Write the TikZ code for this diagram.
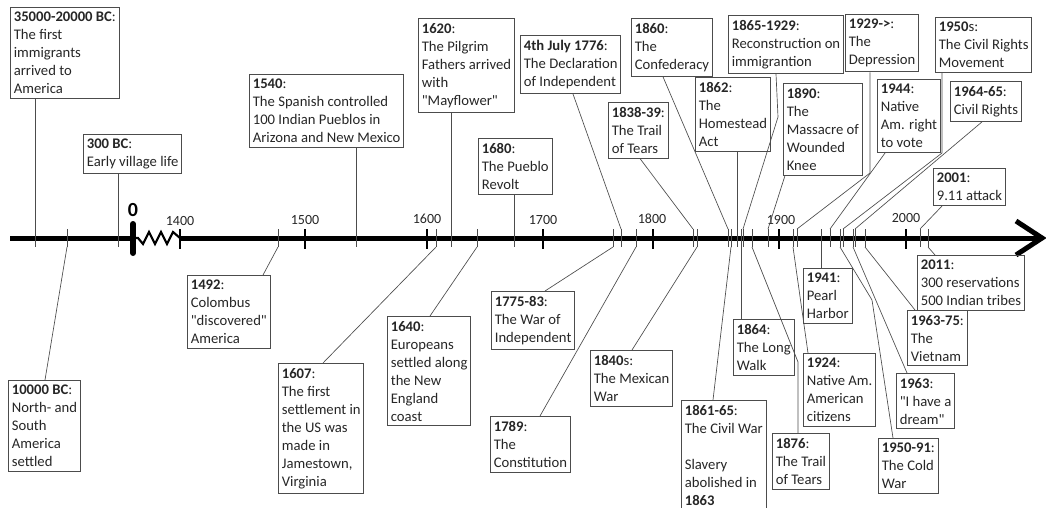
\documentclass[tikz,border=0pt]{standalone}
\usepackage{fontspec}
\setmainfont{Carlito}[Ligatures=TeXOff]

\begin{document}
\begin{tikzpicture}[x=0.75pt,y=-0.75pt,
  ebox/.style={draw=black!70,line width=0.75pt,anchor=north west,align=left,
    inner xsep=2.5pt,inner ysep=3.5pt,font=\fontsize{11}{13.5}\selectfont,text=black!85},
  lead/.style={draw=black!70,line width=0.5pt},
  tick/.style={draw=black!70,line width=0.6pt},
  mtick/.style={line width=2.2pt},
  year/.style={font=\fontsize{10.5}{12}\selectfont,text=black!85},
  axis/.style={line width=3.75pt}]

\useasboundingbox (0,0) rectangle (1046,507);

% time axis
\coordinate (start) at (10,238);
\coordinate (zero) at (133,238);
\coordinate (y1400) at (180,238);
\coordinate (end) at (1042,238);
\draw[axis] (start) -- (zero);
\draw[axis] (y1400) -- (end);
\draw[axis] (1016,221) -- (end) -- (1016,255); % arrow head
\draw[line width=1.6pt] (zero) -- (138,238) -- (143,244) -- (149,232) -- (155,244)
  -- (161,232) -- (167,244) -- (173,232) -- (y1400); % break
\draw[line width=4.5pt,line cap=round] (133,224) -- (133,253);
\node[font=\fontsize{15}{16}\selectfont\bfseries] (l0) at (133,210) {0};

% years
\draw[mtick] (180,229) -- (180,249);
\node[year] (l1400) at (180,221) {1400};
\draw[mtick] (305,229) -- (305,249);
\node[year] (l1500) at (305,220) {1500};
\draw[mtick] (427,229) -- (427,249);
\node[year] (l1600) at (427,219) {1600};
\draw[mtick] (543,229) -- (543,249);
\node[year] (l1700) at (543,220) {1700};
\draw[mtick] (653,229) -- (653,249);
\node[year] (l1800) at (652,219) {1800};
\draw[mtick] (779,229) -- (779,249);
\node[year] (l1900) at (781,220) {1900};
\draw[mtick] (906,229) -- (906,249);
\node[year] (l2000) at (906,218) {2000};

% events above the axis
\node[ebox] (b35000) at (10,7) {\textbf{35000-20000 BC}:\\The first\\immigrants\\arrived to\\America};
\node[ebox] (b300) at (83,134) {\textbf{300 BC}:\\Early village life};
\node[ebox] (b1540) at (249,74) {\textbf{1540}:\\The Spanish controlled\\100 Indian Pueblos in\\Arizona and New Mexico};
\node[ebox] (b1620) at (418,18) {\textbf{1620}:\\The Pilgrim\\Fathers arrived\\with\\"Mayflower"};
\node[ebox] (b1680) at (478,138) {\textbf{1680}:\\The Pueblo\\Revolt};
\node[ebox] (b1776) at (520,35) {\textbf{4th July 1776}:\\The Declaration\\of Independent};
\node[ebox] (b1838) at (608,102) {\textbf{1838-39}:\\The Trail\\of Tears};
\node[ebox] (b1860) at (631,18) {\textbf{1860}:\\The\\Confederacy};
\node[ebox] (b1862) at (695,77) {\textbf{1862}:\\The\\Homestead\\Act};
\node[ebox] (b1865) at (728,15) {\textbf{1865-1929}:\\Reconstruction on\\immigrantion};
\node[ebox] (b1890) at (783,83) {\textbf{1890}:\\The\\Massacre of\\Wounded\\Knee};
\node[ebox] (b1929) at (845,14) {\textbf{1929->}:\\The\\Depression};
\node[ebox] (b1944) at (877,79) {\textbf{1944}:\\Native\\Am. right\\to vote};
\node[ebox] (b1950s) at (935,17) {\textbf{1950}s:\\The Civil Rights\\Movement};
\node[ebox] (b1964) at (950,81) {\textbf{1964-65}:\\Civil Rights};
\node[ebox] (b2001) at (933,168) {\textbf{2001}:\\9.11 attack};

% ticks above
\coordinate (t35000) at (35,229);
\coordinate (t300) at (118,229);
\coordinate (t1540) at (356,229);
\coordinate (t1620) at (451,229);
\coordinate (t1680) at (514,229);
\coordinate (t1776) at (621,229);
\coordinate (t1838) at (693,229);
\coordinate (t1860) at (728,229);
\coordinate (t1862) at (737,229);
\coordinate (t1865) at (743,229);
\coordinate (t1890) at (768,229);
\coordinate (t1929) at (797,229);
\coordinate (t1944) at (830,229);
\coordinate (t1950s) at (843,229);
\coordinate (t1964) at (855,229);
\coordinate (t2001) at (920,229);
\draw[tick] (t35000) -- ++(0,18) (t300) -- ++(0,18) (t1540) -- ++(0,18)
  (t1620) -- ++(0,18) (t1680) -- ++(0,18) (t1776) -- ++(0,18) (t1838) -- ++(0,18)
  (t1860) -- ++(0,18) (t1862) -- ++(0,18) (t1865) -- ++(0,18) (t1890) -- ++(0,18)
  (t1929) -- ++(0,18) (t1944) -- ++(0,18) (t1950s) -- ++(0,18) (t1964) -- ++(0,18)
  (t2001) -- ++(0,18);

% leaders above
\coordinate (k1865) at (778,117);
\coordinate (k1929) at (870,173);
\coordinate (k1950s) at (942,153);
\draw[lead] (b35000.south -| t35000) -- (t35000);
\draw[lead] (b300.south -| t300) -- (t300);
\draw[lead] (b1540.south -| t1540) -- (t1540);
\draw[lead] (b1620.south -| t1620) -- (t1620);
\draw[lead] (b1680.south -| t1680) -- (t1680);
\draw[lead] (b1776.south -| 573,0) -- (t1776);
\draw[lead] (b1838.south -| 640,0) -- (t1838);
\draw[lead] (b1860.south -| 663,0) -- (t1860);
\draw[lead] (b1862.south -| t1862) -- (t1862);
\draw[lead] (b1865.south -| 776,0) -- (k1865) -- (t1865);
\draw[lead] (b1890.south -| 785,0) -- (t1890);
\draw[lead] (b1929.south -| k1929) -- (k1929) -- (t1929);
\draw[lead] (b1944.south -| 885,0) -- (t1944);
\draw[lead] (b1950s.south -| k1950s) -- (k1950s) -- (t1950s);
\draw[lead] (b1964.south -| 982,0) -- (t1964);
\draw[lead] (b2001.south -| 942,0) -- (t2001);

% events below the axis
\node[ebox] (b10000) at (8,380) {\textbf{10000 BC}:\\North- and\\South\\America\\settled};
\node[ebox] (b1492) at (187,275) {\textbf{1492}:\\Colombus\\"discovered"\\America};
\node[ebox] (b1607) at (278,363) {\textbf{1607}:\\The first\\settlement in\\the US was\\made in\\Jamestown,\\Virginia};
\node[ebox] (b1640) at (387,316) {\textbf{1640}:\\Europeans\\settled along\\the New\\England\\coast};
\node[ebox] (b1775) at (491,291) {\textbf{1775-83}:\\The War of\\Independent};
\node[ebox] (b1789) at (490,416) {\textbf{1789}:\\The\\Constitution};
\node[ebox] (b1840) at (590,350) {\textbf{1840}s:\\The Mexican\\War};
\node[ebox] (b1861) at (681,400) {\textbf{1861-65}:\\The Civil War\\~\\Slavery\\abolished in\\\textbf{1863}};
\node[ebox] (b1864) at (733,319) {\textbf{1864}:\\The Long\\Walk};
\node[ebox] (b1876) at (772,433) {\textbf{1876}:\\The Trail\\of Tears};
\node[ebox] (b1941) at (803,268) {\textbf{1941}:\\Pearl\\Harbor};
\node[ebox] (b1924) at (803,353) {\textbf{1924}:\\Native Am.\\American\\citizens};
\node[ebox] (b1950) at (878,438) {\textbf{1950-91}:\\The Cold\\War};
\node[ebox] (b1963) at (896,373) {\textbf{1963}:\\"I have a\\dream"};
\node[ebox] (b1963b) at (907,310) {\textbf{1963-75}:\\The\\Vietnam};
\node[ebox] (b2011) at (917,255) {\textbf{2011}:\\300 reservations\\500 Indian tribes};

% ticks below
\coordinate (t10000) at (67,247);
\coordinate (t1492) at (278,247);
\coordinate (t1607) at (436,247);
\coordinate (t1640) at (477,247);
\coordinate (t1775) at (613,247);
\coordinate (t1789) at (636,247);
\coordinate (t1840) at (697,247);
\coordinate (t1861) at (731,247);
\coordinate (t1864) at (741,247);
\coordinate (t1876) at (752,247);
\coordinate (t1924) at (793,247);
\coordinate (t1941) at (821,247);
\coordinate (t1950) at (840,247);
\coordinate (t1963) at (853,247);
\coordinate (t1963b) at (865,247);
\coordinate (t2011) at (928,247);
\draw[tick] (t10000) -- ++(0,-18) (t1492) -- ++(0,-18) (t1607) -- ++(0,-18)
  (t1640) -- ++(0,-18) (t1775) -- ++(0,-18) (t1789) -- ++(0,-18) (t1840) -- ++(0,-18)
  (t1861) -- ++(0,-18) (t1864) -- ++(0,-18) (t1876) -- ++(0,-18) (t1924) -- ++(0,-18)
  (t1941) -- ++(0,-18) (t1950) -- ++(0,-18) (t1963) -- ++(0,-18) (t1963b) -- ++(0,-18)
  (t2011) -- ++(0,-18);

% leaders below
\coordinate (k1876) at (798,362);
\coordinate (k1950) at (872,300);
\draw[lead] (b10000.north -| 45,0) -- (t10000);
\draw[lead] (b1492.north -| 263,0) -- (t1492);
\draw[lead] (b1607.north -| 323,0) -- (t1607);
\draw[lead] (b1640.north -| 430,0) -- (t1640);
\draw[lead] (b1775.north -| 545,0) -- (t1775);
\draw[lead] (b1789.north -| 540,0) -- (t1789);
\draw[lead] (b1840.north -| 632,0) -- (t1840);
\draw[lead] (b1861.north -| 713,0) -- (t1861);
\draw[lead] (b1864.north -| t1864) -- (t1864);
\draw[lead] (b1876.north -| k1876) -- (k1876) -- (t1876);
\draw[lead] (b1924.north -| 808,0) -- (t1924);
\draw[lead] (b1941.north -| t1941) -- (t1941);
\draw[lead] (b1950.north -| 893,0) -- (k1950) -- (t1950);
\draw[lead] (b1963.north -| 907,0) -- (t1963);
\draw[lead] (b1963b.north -| 915,0) -- (t1963b);
\draw[lead] (b2011.north -| 935,0) -- (t2011);

\end{tikzpicture}
\end{document}
